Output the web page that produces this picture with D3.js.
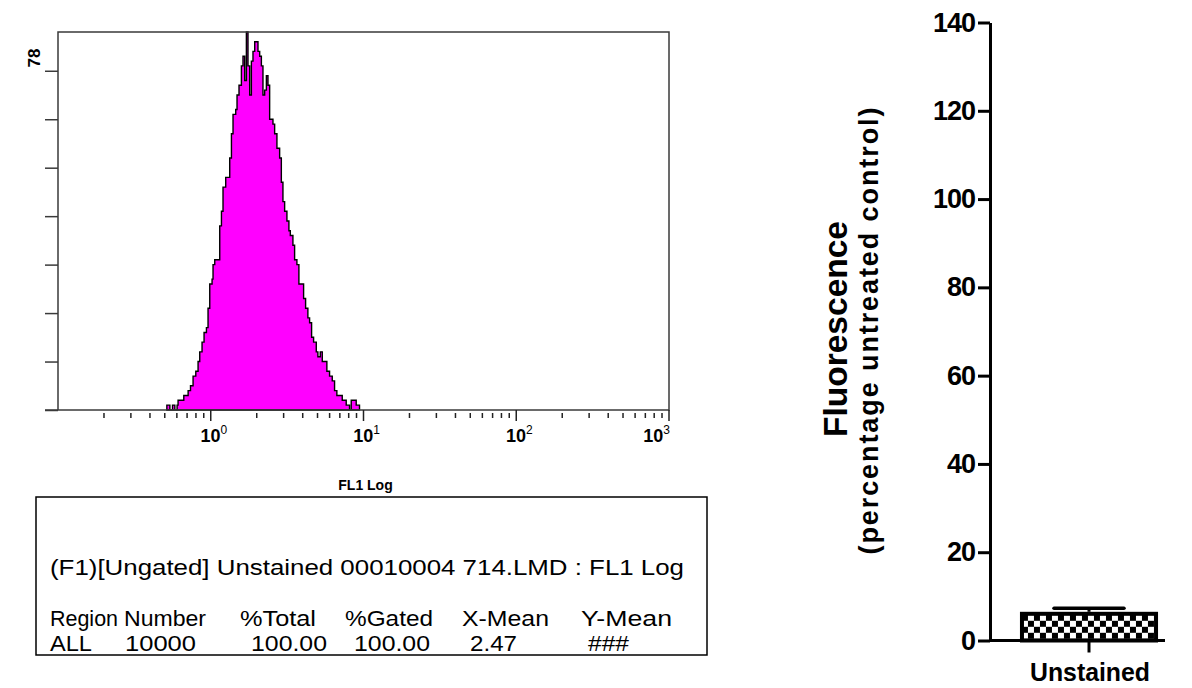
<!DOCTYPE html>
<html>
<head>
<meta charset="utf-8">
<script src="https://cdn.jsdelivr.net/npm/d3@7"></script>
<style>
  html, body { margin: 0; padding: 0; background: #fff; }
  svg { display: block; font-family: "Liberation Sans", Arial, sans-serif; }
</style>
</head>
<body>
<svg id="chart" width="1192" height="688"></svg>
<script>
// ---------- Histogram data (FL1 Log, bin left edges and event counts) ----------
const fl1Bins = [
  0.516, 0.540, 0.562, 0.582, 0.602, 0.611, 0.634, 0.666, 0.711, 0.737,
  0.766, 0.798, 0.826, 0.847, 0.877, 0.904, 0.937, 0.960, 0.985, 1.020,
  1.035, 1.062, 1.145, 1.175, 1.203, 1.253, 1.331, 1.366, 1.399, 1.457,
  1.486, 1.531, 1.587, 1.626, 1.668, 1.711, 1.753, 1.798, 1.845, 1.890,
  1.940, 1.990, 2.038, 2.091, 2.145, 2.197, 2.254, 2.313, 2.369, 2.430,
  2.493, 2.554, 2.620, 2.712, 2.825, 2.898, 2.969, 3.046, 3.153, 3.249,
  3.318, 3.451, 3.540, 3.665, 3.777, 4.054, 4.178, 4.324, 4.437, 4.573,
  4.713, 4.908, 5.028, 5.212, 5.372, 5.561, 5.757, 5.996, 6.244, 6.465,
  6.693, 6.970, 7.259, 7.707, 8.101, 8.311, 8.960, 9.417
];
const fl1Counts = [
  1, 0, 1, 0, 1, 2, 2, 3, 4, 5,
  7, 8, 10, 12, 14, 16, 17, 21, 26, 27,
  30, 31, 38, 41, 46, 48, 52, 57, 61, 62,
  65, 67, 71, 73, 68, 78, 71, 65, 72, 74,
  76, 76, 74, 73, 71, 65, 66, 69, 67, 60,
  60, 59, 57, 54, 52, 47, 43, 41, 39, 37,
  36, 34, 31, 30, 26, 23, 21, 19, 18, 15,
  14, 12, 11, 12, 10, 10, 8, 7, 6, 4,
  3, 3, 2, 1, 0, 2, 1, 0
];
const histYMax = 78;
const histYTicks = [0, 10, 20, 30, 40, 50, 60, 70];
const histMajorExps = [0, 1, 2, 3];
const histXTitle = "FL1 Log";

// ---------- Statistics box text ----------
const statsTitle = "(F1)[Ungated] Unstained 00010004 714.LMD : FL1 Log";
const statsHeaders = ["Region", "Number", "%Total", "%Gated", "X-Mean", "Y-Mean"];
const statsValues = ["ALL", "10000", "100.00", "100.00", "2.47", "###"];

// ---------- Bar chart data ----------
const barCategories = ["Unstained"];
const barMeans = [6.5];
const barSEM = [0.8];
const barYTicks = [0, 20, 40, 60, 80, 100, 120, 140];
const barYTitle = "Fluorescence";
const barYSubtitle = "(percentage untreated control)";

const svg = d3.select("#chart");

// ================= HISTOGRAM =================
const hx = d3.scaleLog().domain([0.1, 1000]).range([58, 669]);
const hy = d3.scaleLinear().domain([0, histYMax]).range([410, 32]);

const histData = fl1Bins.map((v, i) => ({ v, c: fl1Counts[i] }));
const area = d3.area()
  .x(d => hx(d.v))
  .y0(hy(0))
  .y1(d => hy(d.c))
  .curve(d3.curveStepAfter);

const hg = svg.append("g");
hg.append("path")
  .datum(histData)
  .attr("d", area)
  .attr("fill", "#ff00ff")
  .attr("stroke", "#000")
  .attr("stroke-width", 1.4)
  .attr("stroke-linejoin", "miter");

// frame
hg.append("rect")
  .attr("x", hx.range()[0]).attr("y", hy.range()[1])
  .attr("width", hx.range()[1] - hx.range()[0])
  .attr("height", hy.range()[0] - hy.range()[1])
  .attr("fill", "none").attr("stroke", "#3a3a3a").attr("stroke-width", 1.5);

// y ticks (outside left)
const yAxisH = d3.axisLeft(hy).tickValues(histYTicks).tickSize(13).tickFormat("");
hg.append("g").attr("transform", `translate(${hx.range()[0]},0)`).call(yAxisH)
  .call(g => g.select(".domain").remove())
  .call(g => g.selectAll("line").attr("stroke", "#3a3a3a").attr("stroke-width", 1.5));

// y max label
hg.append("text")
  .attr("transform", `translate(40,${hy(histYMax) + 26}) rotate(-90)`)
  .attr("text-anchor", "middle")
  .attr("font-size", 17).attr("font-weight", "bold")
  .text(String(histYMax));

// x ticks
const minorVals = [];
[-1, 0, 1, 2].forEach(e => { for (let m = 2; m <= 9; m++) minorVals.push(m * Math.pow(10, e)); });
const xg = hg.append("g").attr("transform", `translate(0,${hy(0)})`);
xg.selectAll("line.minor").data(minorVals).join("line").attr("class", "minor")
  .attr("x1", d => hx(d)).attr("x2", d => hx(d))
  .attr("y1", 3).attr("y2", 8)
  .attr("stroke", "#222").attr("stroke-width", 1.5);
const majorVals = histMajorExps.map(e => Math.pow(10, e));
xg.selectAll("line.major").data(majorVals).join("line").attr("class", "major")
  .attr("x1", d => hx(d)).attr("x2", d => hx(d))
  .attr("y1", 0).attr("y2", 11)
  .attr("stroke", "#222").attr("stroke-width", 1.5);
// axis stub extending left of the frame
xg.append("line").attr("x1", 45).attr("x2", hx.range()[0]).attr("y1", 0).attr("y2", 0)
  .attr("stroke", "#3a3a3a").attr("stroke-width", 1.5);

// major tick labels 10^n
histMajorExps.forEach((e, i) => {
  const last = i === histMajorExps.length - 1;
  const t = xg.append("text")
    .attr("x", last ? hx(Math.pow(10, e)) + 1 : hx(Math.pow(10, e)) + 3)
    .attr("y", 32)
    .attr("text-anchor", last ? "end" : "middle")
    .attr("font-size", 18).attr("font-weight", "bold");
  t.append("tspan").text("10");
  t.append("tspan").attr("font-size", 12).attr("font-weight", "normal").attr("dy", -8).text(String(e));
});

// x title
hg.append("text")
  .attr("x", hx(10) + 2).attr("y", 490)
  .attr("text-anchor", "middle")
  .attr("font-size", 14).attr("font-weight", "bold")
  .text(histXTitle);

// ================= STATS BOX =================
const sb = svg.append("g");
sb.append("rect").attr("x", 36).attr("y", 497).attr("width", 671).attr("height", 158)
  .attr("fill", "none").attr("stroke", "#000").attr("stroke-width", 1.5);
sb.append("text").attr("x", 50).attr("y", 575)
  .attr("font-size", 22)
  .attr("textLength", 634).attr("lengthAdjust", "spacingAndGlyphs")
  .text(statsTitle);
const headerX = [50, 124, 240, 345, 462, 581];
const headerW = [68, 82, 76, 88, 87, 91];
const valueX = [50, 125, 251, 354, 470, 588];
const valueW = [42, 71, 76, 76, 47, 41];
sb.selectAll("text.hdr").data(statsHeaders).join("text").attr("class", "hdr")
  .attr("x", (d, i) => headerX[i]).attr("y", 626).attr("font-size", 22)
  .attr("textLength", (d, i) => headerW[i]).attr("lengthAdjust", "spacingAndGlyphs")
  .text(d => d);
sb.selectAll("text.val").data(statsValues).join("text").attr("class", "val")
  .attr("x", (d, i) => valueX[i]).attr("y", 651).attr("font-size", 22)
  .attr("textLength", (d, i) => valueW[i]).attr("lengthAdjust", "spacingAndGlyphs")
  .text(d => d);

// ================= BAR CHART =================
const by = d3.scaleLinear().domain([0, 140]).range([640.5, 22.5]);
const bx = d3.scaleBand().domain(barCategories).range([990, 1188]).paddingInner(0).paddingOuter(0.217);
const axisLeftX = 990;
const axisRightEnd = 1165;

const defs = svg.append("defs");
const pat = defs.append("pattern").attr("id", "checker")
  .attr("patternUnits", "userSpaceOnUse").attr("width", 12).attr("height", 12)
  .attr("x", bx(barCategories[0]) + 2).attr("y", by(barMeans[0]) + 3);
pat.append("rect").attr("width", 12).attr("height", 12).attr("fill", "#fff");
pat.append("rect").attr("width", 6).attr("height", 6).attr("fill", "#000");
pat.append("rect").attr("x", 6).attr("y", 6).attr("width", 6).attr("height", 6).attr("fill", "#000");

const bg = svg.append("g");

// error bars (behind bar)
barCategories.forEach((c, i) => {
  const cx = bx(c) + bx.bandwidth() / 2;
  bg.append("line").attr("x1", cx).attr("x2", cx)
    .attr("y1", by(barMeans[i])).attr("y2", by(barMeans[i] + barSEM[i]))
    .attr("stroke", "#000").attr("stroke-width", 3);
  bg.append("line").attr("x1", cx - 35).attr("x2", cx + 35)
    .attr("y1", by(barMeans[i] + barSEM[i])).attr("y2", by(barMeans[i] + barSEM[i]))
    .attr("stroke", "#000").attr("stroke-width", 3.5).attr("stroke-linecap", "round");
});

bg.selectAll("rect.bar").data(barCategories).join("rect").attr("class", "bar")
  .attr("x", d => bx(d) + 2)
  .attr("y", (d, i) => by(barMeans[i]) + 2)
  .attr("width", bx.bandwidth() - 4)
  .attr("height", (d, i) => by(0) - by(barMeans[i]) - 2)
  .attr("fill", "url(#checker)")
  .attr("stroke", "#000").attr("stroke-width", 4);

// y axis
const yAxisB = d3.axisLeft(by).tickValues(barYTicks).tickSize(12).tickSizeOuter(0).tickPadding(3);
const yg = bg.append("g").attr("transform", `translate(${axisLeftX},0)`).call(yAxisB);
yg.select(".domain").attr("stroke-width", 3).attr("stroke", "#000");
yg.selectAll(".tick line").attr("stroke-width", 3).attr("stroke", "#000");
yg.selectAll(".tick text")
  .attr("font-family", "'Liberation Sans', Arial, sans-serif")
  .attr("font-size", 27).attr("font-weight", "bold")
  .attr("letter-spacing", -1).attr("fill", "#000");

// x axis
const xgB = bg.append("g").attr("transform", `translate(0,${by(0)})`);
xgB.append("line").attr("x1", axisLeftX).attr("x2", axisRightEnd).attr("y1", 0).attr("y2", 0)
  .attr("stroke", "#000").attr("stroke-width", 3);
xgB.selectAll("line.tk").data(barCategories).join("line").attr("class", "tk")
  .attr("x1", d => bx(d) + bx.bandwidth() / 2).attr("x2", d => bx(d) + bx.bandwidth() / 2)
  .attr("y1", 0).attr("y2", 12).attr("stroke", "#000").attr("stroke-width", 3);
xgB.selectAll("text.cat").data(barCategories).join("text").attr("class", "cat")
  .attr("x", d => bx(d) + bx.bandwidth() / 2 + 1).attr("y", 40)
  .attr("text-anchor", "middle").attr("font-size", 26).attr("font-weight", "bold")
  .attr("textLength", 120).attr("lengthAdjust", "spacingAndGlyphs")
  .text(d => d);

// y titles
bg.append("text")
  .attr("transform", `translate(847,${329}) rotate(-90)`)
  .attr("text-anchor", "middle").attr("font-size", 33).attr("font-weight", "bold")
  .attr("textLength", 216).attr("lengthAdjust", "spacingAndGlyphs")
  .text(barYTitle);
bg.append("text")
  .attr("transform", `translate(878,${331}) rotate(-90)`)
  .attr("text-anchor", "middle").attr("font-size", 27).attr("font-weight", "bold")
  .attr("textLength", 447).attr("lengthAdjust", "spacing")
  .text(barYSubtitle);
</script>
</body>
</html>
